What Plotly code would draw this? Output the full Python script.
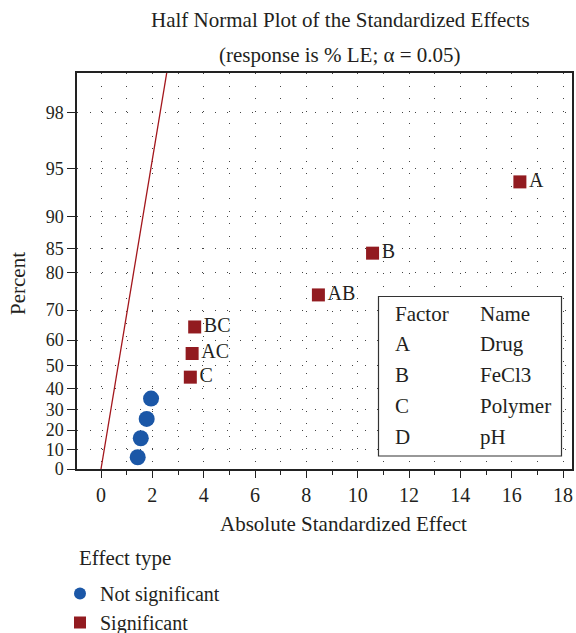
import plotly.graph_objects as go
from statistics import NormalDist

# ---------------- data ----------------
ns_effect = [1.43, 1.55, 1.78, 1.95]
ns_percent = [6.1, 15.9, 25.6, 35.4]

sig_labels = ["C", "AC", "BC", "AB", "B", "A"]
sig_effect = [3.48, 3.55, 3.65, 8.47, 10.58, 16.32]
sig_percent = [45.1, 54.9, 64.6, 74.4, 84.1, 93.9]

fit_effect = [0.0, 2.75]
fit_percent = [0.0, 99.45]

y_tick_percent = [0, 10, 20, 30, 40, 50, 60, 70, 80, 85, 90, 95, 98]
x_tick_vals = [0, 2, 4, 6, 8, 10, 12, 14, 16, 18]

factor_codes = ["A", "B", "C", "D"]
factor_names = ["Drug", "FeCl3", "Polymer", "pH"]

# ---------------- helpers ----------------
nd = NormalDist()


def hn(p):
    """half-normal score for a percent value"""
    return nd.inv_cdf(0.5 + p / 200.0)


W, H = 576, 633
L, R, T, B = 77, 4, 73, 164
PW, PH = W - L - R, H - T - B


def px_x(x):
    return (x - L) / PW


def px_y(y):
    return (H - B - y) / PH


FONT = "Liberation Serif"
TXT = "#231f20"
BLUE = "#1b57a7"
RED = "#921b20"
FS = 21

fig = go.Figure()

fig.add_trace(go.Scatter(
    x=fit_effect, y=[hn(p) for p in fit_percent], mode="lines",
    line=dict(color="#a3161c", width=1.3), showlegend=False, hoverinfo="skip"))

fig.add_trace(go.Scatter(
    x=ns_effect, y=[hn(p) for p in ns_percent], mode="markers",
    marker=dict(symbol="circle", size=16, color=BLUE),
    name="Not significant"))

fig.add_trace(go.Scatter(
    x=sig_effect, y=[hn(p) for p in sig_percent], mode="markers+text",
    marker=dict(symbol="square", size=13, color=RED),
    text=sig_labels, textposition="middle right",
    textfont=dict(family=FONT, size=20, color=TXT),
    name="Significant"))

grid_dash = "1px,11.5px"
fig.update_xaxes(
    range=[-0.935, 18.35], tickvals=x_tick_vals, ticks="outside", ticklen=7,
    tickcolor="#222", tickfont=dict(family=FONT, size=20, color=TXT),
    showline=True, linecolor="#222", linewidth=1.5, mirror=True,
    showgrid=True, gridcolor="#444", griddash=grid_dash, gridwidth=1,
    minor=dict(dtick=1, tick0=0, ticks="outside", ticklen=4, tickcolor="#222",
               showgrid=True, gridcolor="#444", griddash=grid_dash),
    zeroline=False, automargin=False)

fig.update_yaxes(
    range=[0, 2.584], tickvals=[hn(p) for p in y_tick_percent],
    ticktext=[str(p) for p in y_tick_percent], ticks="outside", ticklen=8,
    tickcolor="#222", tickfont=dict(family=FONT, size=18, color=TXT),
    showline=True, linecolor="#222", linewidth=1.5, mirror=True,
    showgrid=True, gridcolor="#444", griddash=grid_dash, gridwidth=1,
    zeroline=False, automargin=False)

# factor table box
fig.add_shape(type="rect", xref="paper", yref="paper",
              x0=px_x(378.5), x1=px_x(561.5), y0=px_y(456), y1=px_y(296.5),
              line=dict(color="#333", width=1.2), fillcolor="white", layer="above")

rows_y = [313.5, 343.5, 375, 406, 437]
codes = ["Factor"] + factor_codes
names = ["Name"] + factor_names
for yy, c, n in zip(rows_y, codes, names):
    fig.add_annotation(xref="paper", yref="paper", x=px_x(393), y=px_y(yy),
                       text=c, showarrow=False, xanchor="left", yanchor="middle",
                       font=dict(family=FONT, size=FS, color=TXT))
    fig.add_annotation(xref="paper", yref="paper", x=px_x(478), y=px_y(yy),
                       text=n, showarrow=False, xanchor="left", yanchor="middle",
                       font=dict(family=FONT, size=FS, color=TXT))

# titles
fig.add_annotation(xref="paper", yref="paper", x=px_x(340), y=px_y(20),
                   text="Half Normal Plot of the Standardized Effects",
                   showarrow=False, xanchor="center", yanchor="middle",
                   font=dict(family=FONT, size=FS, color=TXT))
fig.add_annotation(xref="paper", yref="paper", x=px_x(340), y=px_y(55),
                   text="(response is % LE; α = 0.05)",
                   showarrow=False, xanchor="center", yanchor="middle",
                   font=dict(family=FONT, size=FS, color=TXT))
fig.add_annotation(xref="paper", yref="paper", x=px_x(218), y=px_y(524),
                   text="Absolute Standardized Effect",
                   showarrow=False, xanchor="left", yanchor="middle",
                   font=dict(family=FONT, size=FS, color=TXT))
fig.add_annotation(xref="paper", yref="paper", x=px_x(18), y=px_y(284),
                   text="Percent", textangle=-90,
                   showarrow=False, xanchor="center", yanchor="middle",
                   font=dict(family=FONT, size=FS, color=TXT))
fig.add_annotation(xref="paper", yref="paper", x=px_x(77), y=px_y(558),
                   text="Effect type",
                   showarrow=False, xanchor="left", yanchor="middle",
                   font=dict(family=FONT, size=FS, color=TXT))

fig.update_layout(
    width=W, height=H, margin=dict(l=L, r=R, t=T, b=B, autoexpand=False),
    paper_bgcolor="white", plot_bgcolor="white",
    font=dict(family=FONT, color=TXT),
    legend=dict(font=dict(family=FONT, size=20, color=TXT),
                x=px_x(60), y=px_y(574), xanchor="left", yanchor="top",
                itemsizing="constant", bgcolor="rgba(0,0,0,0)",
                tracegroupgap=0),
)

fig.write_html("out.html")
